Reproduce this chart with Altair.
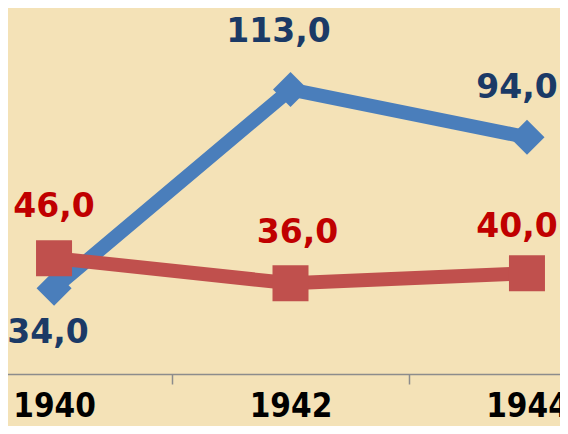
import altair as alt
import pandas as pd

years = [1940, 1942, 1944]
blue_values = [34, 113, 94]
red_values = [46, 36, 40]
axis_years = [1940, 1941, 1942, 1943, 1944]

blue_df = pd.DataFrame({"year": years, "value": blue_values})
red_df = pd.DataFrame({"year": years, "value": red_values})

FONT = "DejaVu Sans"
AXIS_FONT = "DejaVu Sans Condensed, DejaVu Sans"
BLUE = "#4A7EBB"
BLUE_TXT = "#1B3A66"
RED = "#C0504D"
RED_TXT = "#C00000"

x_scale = alt.Scale(domain=[1939.543, 1944.347], nice=False, zero=False)
y_scale = alt.Scale(domain=[0, 148.5], nice=False, zero=False)

x_enc = alt.X(
    "year:Q",
    scale=x_scale,
    axis=alt.Axis(
        values=axis_years,
        labelExpr="datum.value % 2 == 0 ? '' + datum.value : ''",
        grid=False,
        domainColor="#8C8C8C",
        domainWidth=1.5,
        tickColor="#8C8C8C",
        tickWidth=1.5,
        tickSize=10,
        tickOpacity={"condition": {"test": "datum.value % 2 == 1", "value": 1}, "value": 0},
        labelFont=AXIS_FONT,
        labelFontWeight="bold",
        labelFontSize=33,
        labelColor="#000000",
        labelPadding=6,
        labelFlush=False,
        labelOverlap=False,
        title=None,
    ),
)
y_enc = alt.Y("value:Q", scale=y_scale, axis=None)

label_expr = "replace(format(datum.value, '.1f'), '.', ',')"

blue_base = alt.Chart(blue_df).encode(x=x_enc, y=y_enc)
red_base = alt.Chart(red_df).encode(x=x_enc, y=y_enc)

blue_line = blue_base.mark_line(color=BLUE, strokeWidth=14)
blue_pts = blue_base.mark_point(shape="diamond", filled=True, opacity=1, color=BLUE, size=1225)
red_line = red_base.mark_line(color=RED, strokeWidth=14)
red_pts = red_base.mark_point(shape="square", filled=True, opacity=1, color=RED, size=1296)


def value_label(base, year, color, dx, dy):
    return base.transform_filter(f"datum.year == {year}").transform_calculate(
        lbl=label_expr
    ).mark_text(
        font=FONT, fontWeight="bold", fontSize=33, color=color,
        baseline="middle", dx=dx, dy=dy,
    ).encode(text="lbl:N")


labels = [
    value_label(blue_base, 1940, BLUE_TXT, -6, 45),
    value_label(blue_base, 1942, BLUE_TXT, -12, -57),
    value_label(blue_base, 1944, BLUE_TXT, -10, -49),
    value_label(red_base, 1940, RED_TXT, 0, -51),
    value_label(red_base, 1942, RED_TXT, 7, -50),
    value_label(red_base, 1944, RED_TXT, -10, -46),
]

chart = alt.layer(
    blue_line, blue_pts, red_line, red_pts, *labels
).properties(
    width=568,
    height=374,
    autosize=alt.AutoSizeParams(type="none"),
    padding={"top": -8, "left": -8, "right": -8, "bottom": 52},
).configure(
    background="#F4E2B7",
).configure_view(
    stroke=None,
)

chart.save("out.html", embed_options={"renderer": "svg", "actions": False})
